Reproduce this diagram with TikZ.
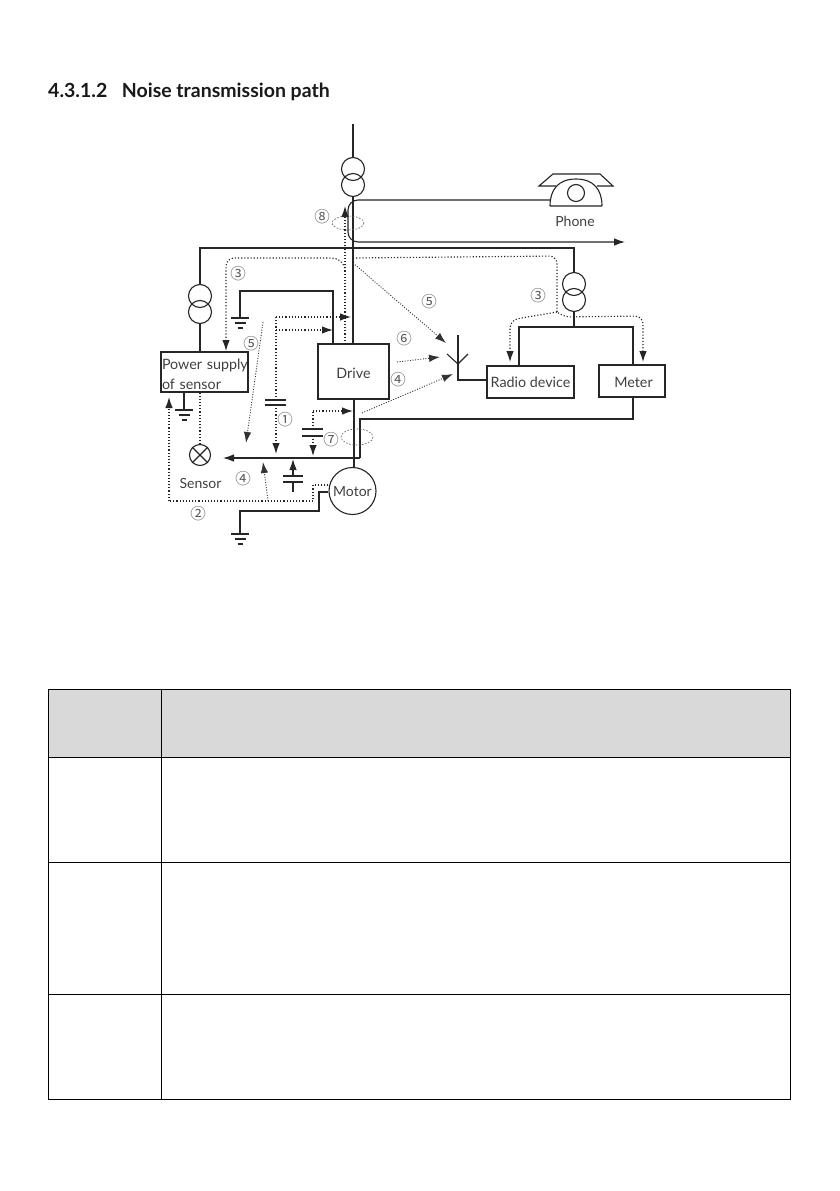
\documentclass[tikz,border=0pt]{standalone}
\usepackage{fontspec}
\setmainfont{Lato}
\newfontfamily\circfont{Noto Sans CJK SC}
\usetikzlibrary{arrows.meta}
\newcommand\dropby[2]{\raisebox{-#1}[\height][\depth]{#2}}
\tikzset{
  wire/.style={line width=1.1pt,color=black!85},
  tip/.style={-{Latex[length=11pt,width=7.5pt]}},
  dotpath/.style={line width=1.15pt,color=black!85,dash pattern=on 1.15pt off 2pt},
  finepath/.style={line width=.9pt,color=black!80,dash pattern=on 1pt off 1.6pt},
  noisering/.style={line width=.6pt,color=black!65,dash pattern=on 1.6pt off 1.6pt},
  box/.style={draw=black!85,line width=1.1pt,fill=white,inner sep=0pt,font=\fontsize{14.3}{20}\selectfont,text=black!75},
  label/.style={inner sep=0pt,font=\fontsize{14}{16}\selectfont,text=black!75},
  circnum/.style={inner sep=0pt,font=\circfont\fontsize{15.5}{16}\selectfont,text=black!65},
  coil/.style={circle,draw=black!85,line width=1.1pt,minimum size=23pt,inner sep=0pt},
  grid line/.style={line width=1pt,color=black},
  gndpic/.pic={
    \draw[wire] (-9,0) -- (9,0) (-5.5,5) -- (5.5,5) (-2.5,10) -- (2.5,10);
  }
}
\begin{document}
\begin{tikzpicture}[x=1pt,y=-1pt]
\useasboundingbox[fill=white] (0,0) rectangle (839,1191);

% heading
\node[anchor=west,inner sep=0pt,font=\fontsize{19.5}{22}\selectfont\bfseries,text=black!90] (heading) at (48,91.5) {4.3.1.2\hspace{14.5pt}Noise transmission path};

% boxes
\node[box,minimum width=71pt,minimum height=55pt] (drive) at (353.5,371.5) {\dropby{2pt}{Drive}};
\node[box,minimum width=87pt,minimum height=40pt,align=left,text width=85pt] (psu) at (204.5,372) {\dropby{2pt}{Power supply}\\\dropby{2pt}{of sensor}};
\node[box,minimum width=87pt,minimum height=32pt] (radio) at (530.5,382) {\dropby{.5pt}{Radio device}};
\node[box,minimum width=66pt,minimum height=32pt] (meter) at (632,381) {\hspace{3pt}\dropby{1.5pt}{Meter}};
\node[circle,draw=black!85,line width=1.1pt,fill=white,minimum size=47pt,inner sep=0pt,font=\fontsize{14}{16}\selectfont,text=black!75] (motor) at (352.5,491) {\dropby{1pt}{Motor}};
\node[circle,draw=black!85,line width=1.1pt,minimum size=21pt,inner sep=0pt] (sensor) at (200,455) {};
\draw[wire] (sensor.north west) -- (sensor.south east) (sensor.north east) -- (sensor.south west);

% transformers
\node[coil] (t1a) at (353,169) {};
\node[coil] (t1b) at (353,185) {};
\node[coil] (t2a) at (200,296) {};
\node[coil] (t2b) at (200,312) {};
\node[coil] (t3a) at (574,284) {};
\node[coil] (t3b) at (574,300) {};

% coordinates
\coordinate (top) at (353,124);
\coordinate (busL) at (200,248);
\coordinate (busR) at (574,248);
\coordinate (split) at (574,327);
\coordinate (splitL) at (519,327);
\coordinate (splitR) at (633,327);
\coordinate (meterBus) at (633,419);
\coordinate (meterBusL) at (360,419);
\coordinate (frameBus) at (360,458);
\coordinate (frameEnd) at (223,458);
\coordinate (phoneEnd) at (550,200);
\coordinate (phoneOut) at (625,242);
\coordinate (antBase) at (458,380);
\coordinate (antTop) at (458,335);
\coordinate (antJoin) at (458,364);
\coordinate (antL) at (447,354);
\coordinate (antR) at (468,354);

% mains
\draw[wire] (top) -- (t1a.north);
\draw[wire] (t1b.south) -- (353,344);
\draw[wire,rounded corners=10pt,tip] (phoneEnd) -- (348,200) -- (348,242) -- (phoneOut);
\draw[wire] (t2a.north) -- (busL) -- (busR) -- (t3a.north);
\draw[wire] (t2b.south) -- (200,352);
\draw[wire] (t3b.south) -- (split);
\draw[wire] (519,366) -- (splitL) -- (splitR) -- (633,365);
\draw[wire] (633,397) -- (meterBus) -- (meterBusL) -- (frameBus);
\draw[wire,tip] (frameBus) -- (frameEnd);
\draw[wire] (354,399) -- (354,467.5);

% antenna
\draw[wire] (antTop) -- (antBase) -- (radio.west |- antBase);
\draw[wire] (antL) -- (antJoin) -- (antR);

% grounds
\coordinate (g1) at (240,318);
\coordinate (g2) at (184,410);
\coordinate (g3) at (240,534);
\draw[wire] (333,344) -- (333,291) -- (240,291) -- (g1);
\draw[wire] (184,392) -- (g2);
\draw[wire] (motor.west |- 0,492) -- (319,492) -- (319,511) -- (240,511) -- (g3);
\pic at (g1) {gndpic};
\pic at (g2) {gndpic};
\pic at (g3) {gndpic};

% capacitor 1
\coordinate (c1a) at (276,400);
\coordinate (c1b) at (276,405);
\draw[wire] (265,400) -- (286,400) (265,405) -- (286,405);
\draw[dotpath] (c1a) -- (276,317);
\draw[dotpath,tip] (276,317) -- (351,317);
\draw[dotpath,tip] (276,330) -- (333,330);
\draw[dotpath,tip] (c1b) -- (276,454);

% capacitor 2
\coordinate (c2a) at (293,476);
\coordinate (c2b) at (293,482);
\draw[wire] (283,476) -- (303,476) (283,482) -- (303,482) (c2b) -- (293,492);
\draw[wire,tip] (c2a) -- (293,459);

% capacitor 3
\coordinate (c3a) at (313,429);
\coordinate (c3b) at (313,436);
\draw[wire] (302,429) -- (323,429) (302,436) -- (323,436);
\draw[dotpath] (c3a) -- (313,411);
\draw[dotpath,tip] (313,411) -- (353,411);
\draw[dotpath,tip] (c3b) -- (313,456);

% noise rings
\draw[noisering] (357,437) ellipse (16 and 8);
\draw[noisering] (348,223) ellipse (16 and 7);

% path 2 and 4
\draw[dotpath] (motor.west |- 0,485) -- (313,485) -- (313,501) -- (169,501);
\draw[dotpath,tip] (169,501) -- (169,397);
\draw[finepath,tip] (268,501) -- (263,462);

% path 3
\draw[dotpath,tip] (345,344) -- (345,206);
\draw[dotpath,rounded corners=8pt,tip] (345,268) -- (340,258) -- (226,258) -- (226,351);
\draw[dotpath,rounded corners=8pt] (353,258) -- (557,256) -- (557,312);
\draw[dotpath,rounded corners=8pt,tip] (557,312) -- (510,320) -- (510,362);
\draw[dotpath,rounded corners=8pt,tip] (557,312) -- (562,317) -- (643,316) -- (643,362);

% sensor link
\draw[dotpath] (psu.south -| sensor) -- (sensor.north);

% paths 4 5 6
\draw[finepath,tip] (263,322) -- (246,443);
\draw[finepath,tip] (353,263) -- (446,343);
\draw[finepath,tip] (397,362) -- (440,357);
\draw[finepath,tip] (362,413) -- (453,374);

% phone
\node[circle,draw=black!85,line width=1.1pt,minimum size=17pt,inner sep=0pt] (dial) at (576,193) {};
\draw[wire] (550,206) -- (602,206) (550,206) .. controls (550,190) and (558,179) .. (576,179) .. controls (594,179) and (602,190) .. (602,206);
\draw[wire] (556,186) -- (539,186) -- (553,174) -- (600,174) -- (613,186) -- (597,186);

% labels
\node[label] (lphone) at (575,221) {Phone};
\node[label] (lsensor) at (200.5,483) {Sensor};
\node[circnum] (n3a) at (238,274) {③};
\node[circnum] (n5a) at (251,344) {⑤};
\node[circnum] (n8) at (322,217) {⑧};
\node[circnum] (n1) at (285,420) {①};
\node[circnum] (n4a) at (398,380) {④};
\node[circnum] (n6) at (404,339) {⑥};
\node[circnum] (n5b) at (429,302) {⑤};
\node[circnum] (n3b) at (538,296) {③};
\node[circnum] (n7) at (331,440) {⑦};
\node[circnum] (n4b) at (243,479) {④};
\node[circnum] (n2) at (198,514) {②};

% table
\fill[black!15] (48,689) rectangle (790,757);
\draw[grid line] (48,689) rectangle (790,1099);
\draw[grid line] (161,689) -- (161,1099);
\draw[grid line] (48,757) -- (790,757);
\draw[grid line] (48,862) -- (790,862);
\draw[grid line] (48,994) -- (790,994);
\end{tikzpicture}
\end{document}
